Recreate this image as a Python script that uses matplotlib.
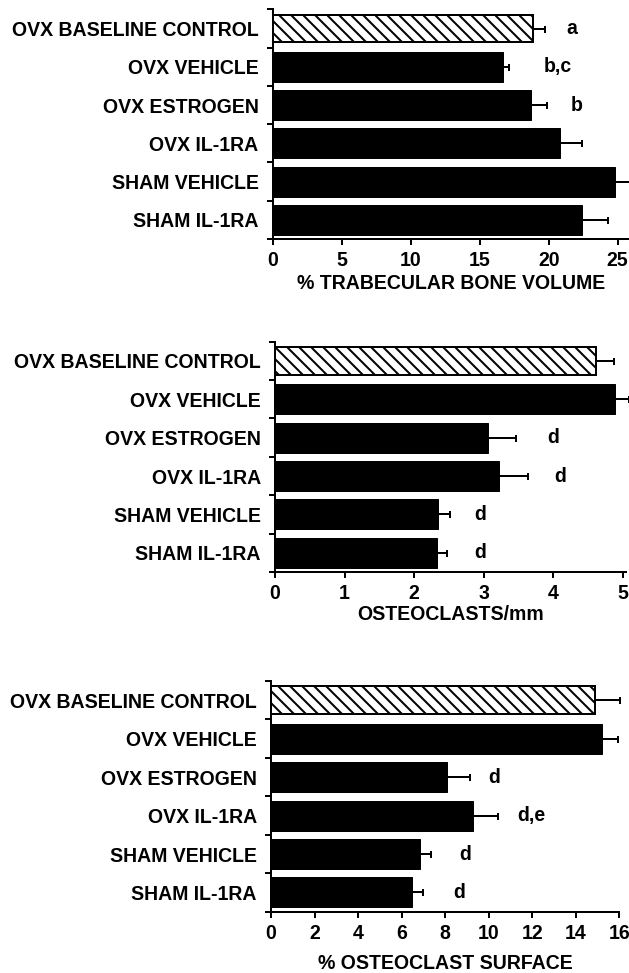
import numpy as np
import matplotlib.pyplot as plt

plt.rcParams['font.family'] = ['Liberation Sans', 'DejaVu Sans']
plt.rcParams['font.weight'] = 'bold'
plt.rcParams['hatch.linewidth'] = 2.0

groups = ['OVX BASELINE CONTROL', 'OVX VEHICLE', 'OVX ESTROGEN',
          'OVX IL-1RA', 'SHAM VEHICLE', 'SHAM IL-1RA']

# % trabecular bone volume
bv = [18.9, 16.7, 18.7, 20.8, 24.8, 22.4]
bv_err = [0.8, 0.4, 1.2, 1.6, 1.1, 1.9]
bv_notes = ['a', 'b,c', 'b', '', '', '']

# osteoclasts / mm
oc = [4.62, 4.89, 3.06, 3.22, 2.35, 2.33]
oc_err = [0.26, 0.2, 0.41, 0.42, 0.17, 0.14]
oc_notes = ['', '', 'd', 'd', 'd', 'd']

# % osteoclast surface
os_ = [14.9, 15.2, 8.08, 9.3, 6.85, 6.48]
os_err = [1.15, 0.75, 1.05, 1.15, 0.5, 0.5]
os_notes = ['', '', 'd', 'd,e', 'd', 'd']

# layout: axes rects, x limits, ticks, note positions (data units), label pad
panels = [
    (bv, bv_err, bv_notes, '% TRABECULAR BONE VOLUME',
     [0.4335, 0.7544, 0.566, 0.2359], 25.8, np.arange(0, 26, 5),
     [21.67, 20.65, 22.0, 0, 0, 0], 4),
    (oc, oc_err, oc_notes, 'OSTEOCLASTS/mm',
     [0.4372, 0.4121, 0.558, 0.2367], 5.05, np.arange(0, 6, 1),
     [0, 0, 4.0, 4.11, 2.95, 2.95], 2),
    (os_, os_err, os_notes, '% OSTEOCLAST SURFACE',
     [0.4308, 0.0630, 0.5538, 0.2371], 16, np.arange(0, 17, 2),
     [0, 0, 10.26, 11.97, 8.94, 8.65], 11),
]

fs = 19.5

fig = plt.figure(figsize=(629 / 72, 973 / 72), dpi=72)

y = np.arange(len(groups))
for vals, errs, notes, xlabel, rect, xmax, xt, nx, lpad in panels:
    ax = fig.add_axes(rect)
    for i in range(len(groups)):
        if i == 0:
            ax.barh(y[i], vals[i], height=0.72, color='white', edgecolor='black',
                    hatch='\\\\', linewidth=2)
        else:
            ax.barh(y[i], vals[i], height=0.78, color='black', edgecolor='black')
    ax.errorbar(vals, y, xerr=[np.zeros(len(errs)), errs], fmt='none',
                ecolor='black', elinewidth=2, capsize=3.5, capthick=2, clip_on=False)
    for i, t in enumerate(notes):
        if t:
            ax.text(nx[i], y[i], t, ha='center', va='center', fontsize=fs,
                    fontweight='bold')
    ax.set_xlim(0, xmax)
    ax.set_ylim(5.5, -0.5)
    ax.set_xticks(xt)
    ax.set_yticks(y)
    ax.set_yticklabels(groups)
    ax.set_yticks(np.arange(-0.5, 6, 1), minor=True)
    ax.tick_params(axis='y', which='major', length=0, pad=14, labelsize=fs)
    ax.tick_params(axis='y', which='minor', length=6, width=2)
    ax.tick_params(axis='x', length=6, width=2, pad=6, labelsize=fs)
    ax.set_xlabel(xlabel, fontsize=fs, fontweight='bold', labelpad=lpad)
    ax.spines['top'].set_visible(False)
    ax.spines['right'].set_visible(False)
    ax.spines['left'].set_linewidth(2)
    ax.spines['bottom'].set_linewidth(2)

plt.savefig('out.png', dpi=72)
